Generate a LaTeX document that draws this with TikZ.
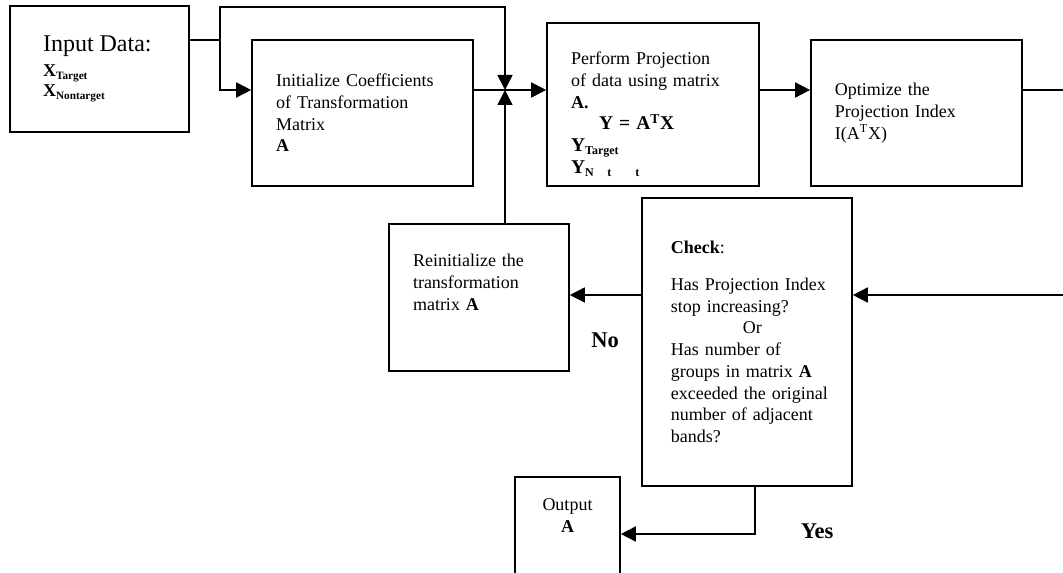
\documentclass[tikz,border=0pt]{standalone}
\usepackage{fontspec}
\setmainfont{Liberation Serif}
\usetikzlibrary{arrows.meta}
\newcommand{\lowtag}[2]{\raisebox{-0.35ex}{\fontsize{#1}{#1}\selectfont\bfseries #2}}

\begin{document}
\begin{tikzpicture}[x=0.6667pt, y=-0.6667pt,
    box/.style = {draw, line width=1.1pt, align=left, inner ysep=0pt,
                  inner xsep=16pt, font=\fontsize{12}{14.5}\selectfont},
    wire/.style = {line width=1.1pt},
    arrow/.style = {line width=1.1pt, -{Triangle[length=10pt,width=10pt]}},
    answer/.style = {font=\fontsize{15}{15}\selectfont\bfseries}]
  \useasboundingbox (0,0) rectangle (1063,573);
  \clip (0,0) rectangle (1063,573);

  % boxes
  \node[box, minimum width=119.3pt, minimum height=84pt, inner xsep=22pt,
        text width=75.3pt, font=\fontsize{12}{13.3}\selectfont] (input) at (99.5,69)
    {{\fontsize{16}{16}\selectfont Input Data:}\\[3pt]
     \textbf{X}\lowtag{7.5}{Target}\\
     \textbf{X}\lowtag{7.5}{Nontarget}};
  \node[box, minimum width=147.3pt, minimum height=97.3pt, text width=115.3pt] (init) at (362.5,113)
    {Initialize Coefficients\\ of Transformation\\ Matrix\\ \textbf{A}};
  \node[box, minimum width=141.3pt, minimum height=108.7pt, text width=109.3pt] (proj) at (653,104.5)
    {\rule{0pt}{21.5pt}Perform Projection\\ of data using matrix\\ \textbf{A.}\\
     \hspace*{18.7pt}{\fontsize{13}{14.5}\selectfont\textbf{Y = A\textsuperscript{T}X}}\\
     {\fontsize{13}{14.5}\selectfont\textbf{Y}}\lowtag{8}{Target}\\
     {\fontsize{13}{14.5}\selectfont\textbf{Y}}\lowtag{8}{N\hspace{9pt}t\hspace{16pt}t}};
  \node[box, minimum width=140.7pt, minimum height=97.3pt, text width=108.7pt] (opt) at (916.5,113)
    {Optimize the\\ Projection Index\\ I(A\textsuperscript{T}X)};
  \node[box, minimum width=120pt, minimum height=98pt, text width=88pt] (reinit) at (479,297.5)
    {Reinitialize the\\ transformation\\ matrix \textbf{A}\rule[-20pt]{0pt}{20pt}};
  \node[box, minimum width=140pt, minimum height=192pt, inner xsep=19.3pt,
        text width=101.4pt] (check) at (747,342)
    {\textbf{Check}:\\[10pt]
     \mbox{Has Projection Index}\\ stop increasing?\\ \hspace*{48pt}Or\\
     Has number of\\ groups in matrix \textbf{A}\\ \mbox{exceeded the original}\\
     number of adjacent\\ bands?};
  \node[box, anchor=north, minimum width=70pt, inner xsep=8pt, inner ysep=14.5pt,
        text width=54pt, align=center] (out) at (567.5,476)
    {Output\\ \textbf{A}\rule[-60pt]{0pt}{60pt}};

  \node[answer] (no) at (605,340) {No};
  \node[answer] (yes) at (817,531) {Yes};

  % connectors
  \coordinate (fork) at (220,40);
  \coordinate (ceil) at (505,7);
  \coordinate (jn) at (505,90);
  \coordinate (optout) at (1063,90);
  \coordinate (checkin) at (1063,295);
  \coordinate (yesbend) at (755,534);

  \draw[wire] (input.east |- fork) -- (fork);
  \draw[arrow] (fork) |- (ceil) -- (jn);
  \draw[arrow] (fork) |- (init.west |- jn);
  \draw[wire] (init.east |- jn) -- (jn);
  \draw[arrow] (jn) -- (proj.west |- jn);
  \draw[arrow] (jn |- reinit.north) -- (jn);
  \draw[arrow] (proj.east |- jn) -- (opt.west |- jn);
  \draw[wire] (opt.east |- jn) -- (optout);
  \draw[arrow] (checkin) -- (check.east |- checkin);
  \draw[arrow] (check.west |- checkin) -- (reinit.east |- checkin);
  \draw[arrow] (check.south -| yesbend) |- (out.east |- yesbend);
\end{tikzpicture}
\end{document}
